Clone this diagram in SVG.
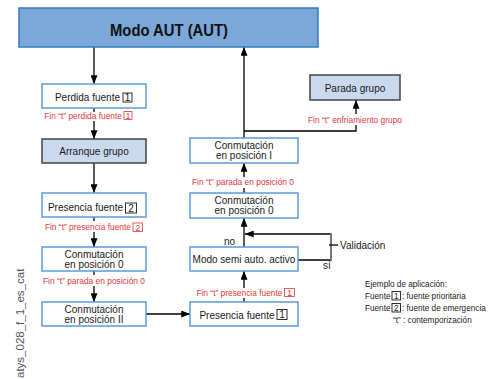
<svg xmlns="http://www.w3.org/2000/svg" width="490" height="379" viewBox="0 0 490 379">
<style>
.bx{fill:#fff;stroke:#5B9BD5;stroke-width:1.5}
.gb{fill:#CBD9EF;stroke:#444;stroke-width:1.5}
.t{font-family:"Liberation Sans",Arial,sans-serif;font-size:10px;fill:#1a1a1a}
.c{text-anchor:middle}
.e{text-anchor:end}
.r{font-family:"Liberation Sans",Arial,sans-serif;font-size:8.4px;fill:#E0373D}
.rs{fill:#fff;stroke:#E0373D;stroke-width:0.8}
.ks{fill:#fff;stroke:#1a1a1a;stroke-width:0.9}
.l{font-family:"Liberation Sans",Arial,sans-serif;font-size:8.2px;fill:#1a1a1a}
.ln{fill:none;stroke:#000;stroke-width:1.3}
</style>
<defs>
<marker id="ah" viewBox="0 0 10 8" refX="10" refY="4" markerWidth="9" markerHeight="7" markerUnits="userSpaceOnUse" orient="auto">
<path d="M0,0 L10,4 L0,8 z" fill="#000"/>
</marker>
</defs>
<rect width="490" height="379" fill="#fff"/>

<g id="connectors">
<line class="ln" x1="94" y1="47" x2="94" y2="84" marker-end="url(#ah)"/>
<line class="ln" x1="94" y1="108" x2="94" y2="112"/>
<line class="ln" x1="94" y1="121" x2="94" y2="139" marker-end="url(#ah)"/>
<line class="ln" x1="94" y1="163" x2="94" y2="193" marker-end="url(#ah)"/>
<line class="ln" x1="94" y1="217" x2="94" y2="221"/>
<line class="ln" x1="94" y1="232" x2="94" y2="247" marker-end="url(#ah)"/>
<line class="ln" x1="94" y1="271" x2="94" y2="275"/>
<line class="ln" x1="94" y1="286" x2="94" y2="302" marker-end="url(#ah)"/>
<line class="ln" x1="146" y1="314" x2="190" y2="314" marker-end="url(#ah)"/>
<line class="ln" x1="244" y1="302" x2="244" y2="298"/>
<line class="ln" x1="244" y1="288" x2="244" y2="271" marker-end="url(#ah)"/>
<line class="ln" x1="244" y1="247" x2="244" y2="218" marker-end="url(#ah)"/>
<polyline class="ln" points="298,260 331,260"/>
<polyline class="ln" points="331,234 245,234" marker-end="url(#ah)"/>
<line x1="331" y1="233" x2="331" y2="261" stroke="#777" stroke-width="2"/>
<line class="ln" x1="329" y1="245" x2="338" y2="245"/>
<line class="ln" x1="244" y1="193" x2="244" y2="188"/>
<line class="ln" x1="244" y1="177" x2="244" y2="163" marker-end="url(#ah)"/>
<line class="ln" x1="244" y1="138" x2="244" y2="47" marker-end="url(#ah)"/>
<polyline class="ln" points="244,131 356,131 356,125"/>
<line class="ln" x1="356" y1="114" x2="356" y2="100" marker-end="url(#ah)"/>
</g>

<g id="modo-aut">
<rect x="19" y="8" width="299" height="39" fill="#7BA7D9" stroke="#2F7EC1" stroke-width="1.5"/>
<text x="169" y="36" text-anchor="middle" font-family="'Liberation Sans',Arial,sans-serif" font-weight="bold" font-size="17" textLength="118" lengthAdjust="spacingAndGlyphs" fill="#111">Modo AUT (AUT)</text>
</g>

<g id="perdida-fuente">
<rect class="bx" x="42" y="84" width="104" height="24"/>
<text class="t e" x="120" y="100.5">Perdida fuente</text>
<rect class="ks" x="123" y="93" width="9" height="9"/>
<text class="t c" x="127.5" y="101" font-size="9">1</text>
</g>
<g id="lbl-perdida">
<text class="r e" x="122" y="119">Fin “t” perdida fuente</text>
<rect class="rs" x="124" y="111.5" width="8" height="8"/>
<text class="r c" x="128" y="118.8">1</text>
</g>

<g id="arranque-grupo">
<rect class="gb" x="42" y="139" width="104" height="24"/>
<text class="t c" x="94" y="155">Arranque grupo</text>
</g>

<g id="presencia-fuente-2">
<rect class="bx" x="42" y="193" width="104" height="24"/>
<text class="t e" x="123" y="210.5">Presencia fuente</text>
<rect class="ks" x="125.5" y="203" width="11" height="10"/>
<text class="t c" x="131" y="211.5">2</text>
</g>
<g id="lbl-presencia-2">
<text class="r e" x="131" y="230">Fin “t” presencia fuente</text>
<rect class="rs" x="133" y="223" width="9.5" height="8.5"/>
<text class="r c" x="137.8" y="230.5">2</text>
</g>

<g id="conm-0-left">
<rect class="bx" x="42" y="247" width="104" height="24"/>
<text class="t c" x="94" y="257.5">Conmutación</text>
<text class="t c" x="94" y="268">en posición 0</text>
</g>
<g id="lbl-parada-left">
<text class="r" x="43" y="283.5">Fin “t” parada en posición 0</text>
</g>

<g id="conm-II">
<rect class="bx" x="42" y="302" width="104" height="24"/>
<text class="t c" x="94" y="312.5">Conmutación</text>
<text class="t c" x="94" y="323">en posición II</text>
</g>

<g id="presencia-fuente-1">
<rect class="bx" x="190" y="302" width="108" height="24"/>
<text class="t e" x="274.5" y="318.5">Presencia fuente</text>
<rect class="ks" x="277" y="309.5" width="10" height="10"/>
<text class="t c" x="282" y="318">1</text>
</g>
<g id="lbl-presencia-1">
<text class="r e" x="282.5" y="296">Fin “t” presencia fuente</text>
<rect class="rs" x="284.5" y="288.5" width="10" height="8"/>
<text class="r c" x="289.5" y="295.8">1</text>
</g>

<g id="modo-semi">
<rect class="bx" x="190" y="247" width="108" height="24"/>
<text class="t c" x="244" y="263">Modo semi auto. activo</text>
</g>
<g id="validacion">
<text class="t" x="224" y="244.5">no</text>
<text class="t" x="323" y="269">sí</text>
<text class="t" x="340" y="248.5">Validación</text>
</g>

<g id="conm-0-right">
<rect class="bx" x="190" y="193" width="108" height="25"/>
<text class="t c" x="244" y="203.5">Conmutación</text>
<text class="t c" x="244" y="214">en posición 0</text>
</g>
<g id="lbl-parada-right">
<text class="r" x="192" y="184.5">Fin “t” parada en posición 0</text>
</g>

<g id="conm-I">
<rect class="bx" x="190" y="138" width="108" height="25"/>
<text class="t c" x="244" y="148.5">Conmutación</text>
<text class="t c" x="244" y="159">en posición I</text>
</g>

<g id="parada-grupo">
<rect class="gb" x="310" y="75" width="90" height="25"/>
<text class="t c" x="355" y="91.5">Parada grupo</text>
</g>
<g id="lbl-enfriamiento">
<text class="r" x="308" y="122.5">Fin “t” enfriamiento grupo</text>
</g>

<g id="legend">
<text class="l" x="365" y="287">Ejemplo de aplicación:</text>
<text class="l" x="365" y="299">Fuente</text>
<rect class="ks" x="392" y="291.5" width="8.5" height="8.5"/>
<text class="l c" x="396.3" y="299">1</text>
<text class="l" x="402" y="299">: fuente prioritaria</text>
<text class="l" x="365" y="311">Fuente</text>
<rect class="ks" x="392" y="303.5" width="8.5" height="8.5"/>
<text class="l c" x="396.3" y="311">2</text>
<text class="l" x="402" y="311">: fuente de emergencia</text>
<text class="l" x="393" y="323">“t” : contemporización</text>
</g>

<text transform="translate(23.5,378) rotate(-90)" font-family="'Liberation Sans',Arial,sans-serif" font-size="11.5" fill="#555">atys_028_f_1_es_cat</text>
</svg>
